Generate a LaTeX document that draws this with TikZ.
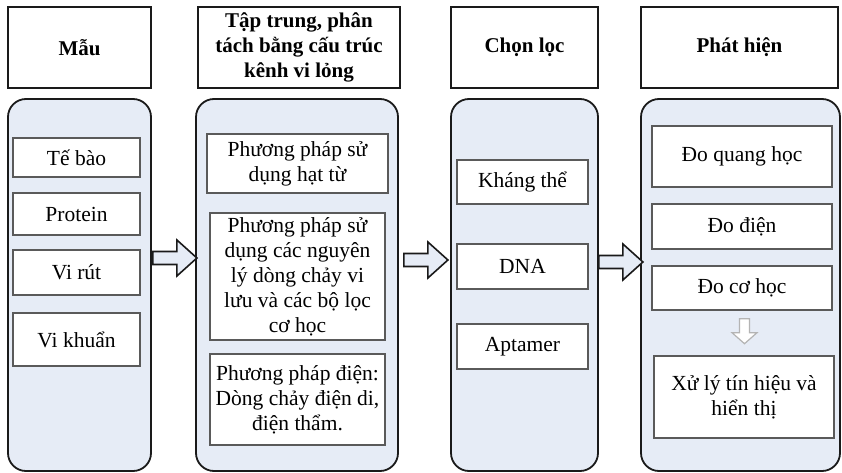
\documentclass[tikz,border=0pt]{standalone}
\usepackage{fontspec}
\setmainfont{Liberation Serif}
\usetikzlibrary{calc}
\begin{document}
\begin{tikzpicture}[x=1pt, y=-1pt]
  % Colors
  \definecolor{blank}{HTML}{ffffff}
  \definecolor{outline}{HTML}{1a1a1a}
  \definecolor{frame}{HTML}{5a5a5a}
  \definecolor{panel}{HTML}{e6ecf6}
  \definecolor{hollow}{HTML}{b4b4b4}

  % Configurations
  \tikzset{
    header/.style={draw=outline, line width=2pt, fill=blank, align=center,
      inner sep=0pt, font=\fontsize{21}{25}\selectfont\bfseries},
    group/.style={draw=outline, line width=1.8pt, fill=panel,
      rounded corners=18pt, inner sep=0pt},
    item/.style={draw=frame, line width=1.4pt, fill=blank, align=center,
      inner sep=0pt, font=\fontsize{21.5}{25}\selectfont},
    blockarrow/.style={draw=outline, line width=1.6pt, fill=panel},
    hollowarrow/.style={draw=hollow, line width=1.2pt, fill=blank}
  }

  % Drawing objects
  \newcommand{\rightblock}{%
    -- +(0,6.5)
    -- +(24,6.5)
    -- +(24,18)
    -- +(44,0)
    -- +(24,-18)
    -- +(24,-6.5)
    -- +(0,-6.5)
    -- cycle
  }
  \newcommand{\downblock}{%
    -- +(5,0)
    -- +(5,14)
    -- +(12.5,14)
    -- +(0,25)
    -- +(-12.5,14)
    -- +(-5,14)
    -- +(-5,0)
    -- cycle
  }

  % Bounding box
  \useasboundingbox [fill=blank] (0,0) rectangle (842,473);

  % Headers
  \node [header, minimum width=143, minimum height=81] (hsamp) at (79.5,47.5) {Mẫu};
  \node [header, minimum width=202, minimum height=81] (hsep) at (299,47.5)
    {Tập trung, phân\\tách bằng cấu trúc\\kênh vi lỏng};
  \node [header, minimum width=147, minimum height=81] (hsel) at (524.5,47.5) {Chọn lọc};
  \node [header, minimum width=197, minimum height=81] (hdet) at (739.5,47.5) {Phát hiện};

  % Panels
  \node [group, minimum width=143, minimum height=372] (psamp) at (79.5,285) {};
  \node [group, minimum width=202, minimum height=372] (psep) at (297,285) {};
  \node [group, minimum width=147, minimum height=372] (psel) at (524.5,285) {};
  \node [group, minimum width=199, minimum height=372] (pdet) at (740.5,285) {};

  % Samples
  \node [item, minimum width=127, minimum height=39] (cell) at (76.5,157.5) {Tế bào};
  \node [item, minimum width=127, minimum height=42] (prot) at (76.5,214) {Protein};
  \node [item, minimum width=127, minimum height=45] (virus) at (76.5,272.5) {Vi rút};
  \node [item, minimum width=127, minimum height=53] (bact) at (76.5,339.5) {Vi khuẩn};

  % Separation
  \node [item, minimum width=181, minimum height=59] (magn) at (297.5,163.5)
    {Phương pháp sử\\dụng hạt từ};
  \node [item, minimum width=175, minimum height=127] (flow) at (297.5,276.5)
    {Phương pháp sử\\dụng các nguyên\\lý dòng chảy vi\\lưu và các bộ lọc\\cơ học};
  \node [item, minimum width=175, minimum height=91] (elec) at (297.5,399.5)
    {Phương pháp điện:\\Dòng chảy điện di,\\điện thẩm.};

  % Selection
  \node [item, minimum width=131, minimum height=44] (anti) at (522.5,182) {Kháng thể};
  \node [item, minimum width=131, minimum height=45] (dna) at (522.5,266.5) {DNA};
  \node [item, minimum width=131, minimum height=45] (apt) at (522.5,346.5) {Aptamer};

  % Detection
  \node [item, minimum width=180, minimum height=61] (opt) at (742,156.5) {Đo quang học};
  \node [item, minimum width=180, minimum height=45] (volt) at (742,226.5) {Đo điện};
  \node [item, minimum width=180, minimum height=44] (mech) at (742,288) {Đo cơ học};
  \node [item, minimum width=180, minimum height=82] (sig) at (744,397)
    {Xử lý tín hiệu và\\hiển thị};

  % Arrows
  \draw [blockarrow] ($(psamp.east)+(1,-27)$) \rightblock;
  \draw [blockarrow] ($(psep.east)+(5,-25)$) \rightblock;
  \draw [blockarrow] ($(psel.east)+(0,-23)$) \rightblock;
  \draw [hollowarrow] ($(mech.south)+(2.5,8)$) \downblock;
\end{tikzpicture}
\end{document}
